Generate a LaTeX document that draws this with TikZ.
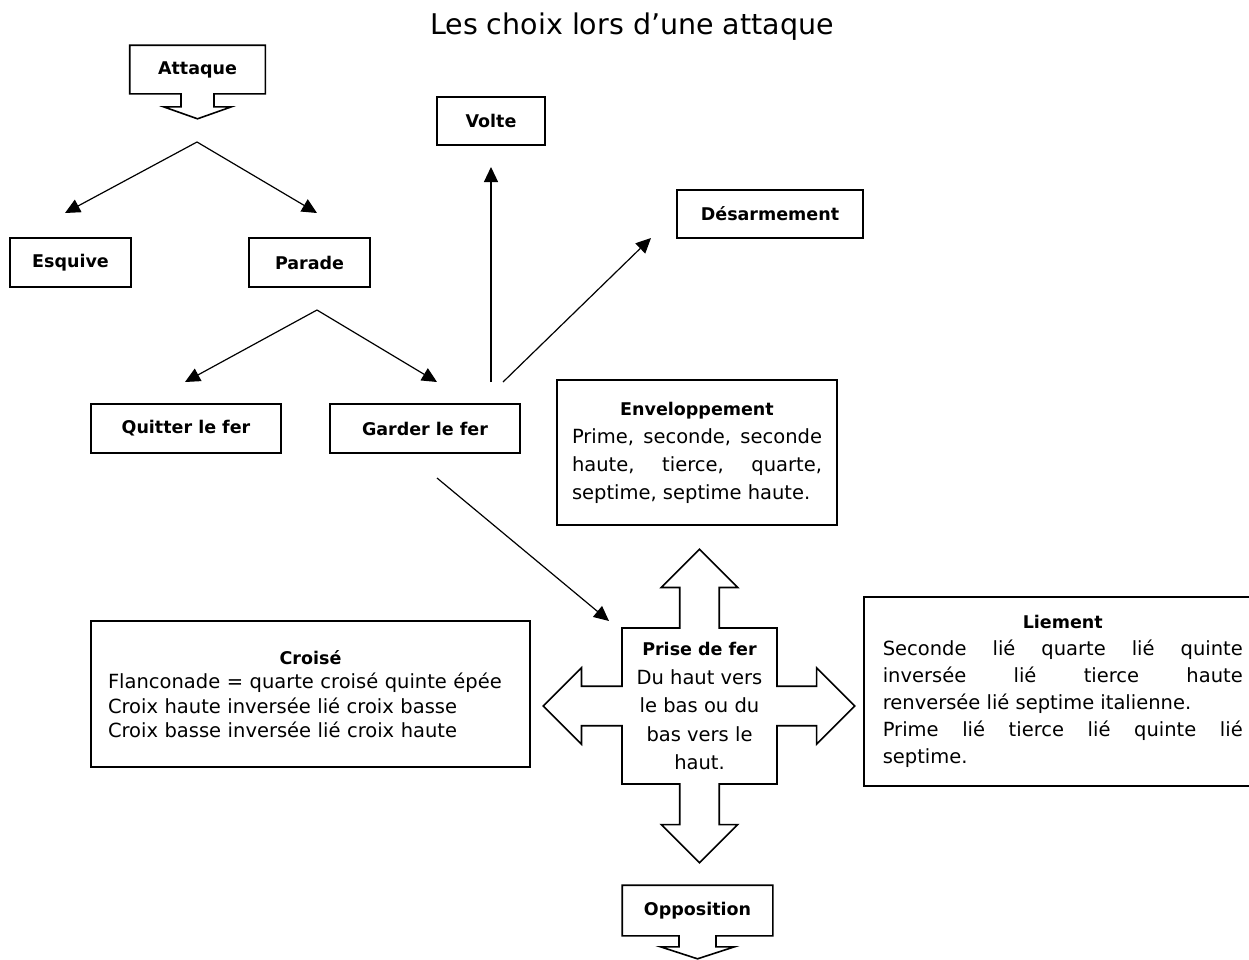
\documentclass[tikz,border=0pt]{standalone}
\usepackage{fontspec}
\setmainfont{DejaVu Sans}
\usetikzlibrary{arrows.meta,shapes.arrows}
\setlength{\parindent}{0pt}
\newcommand{\boxhead}[1]{\makebox[\hsize]{\fontsize{17.5}{27}\selectfont\bfseries #1}\par}

\begin{document}
\begin{tikzpicture}[x=1pt, y=-1pt, line width=1.6pt,
    every node/.style={font=\fontsize{19.5}{27}\selectfont},
    lbl/.style={minimum height=49pt, inner sep=0pt,
                font=\fontsize{17.5}{21}\selectfont\bfseries},
    box/.style={lbl, draw},
    txtbox/.style={draw, inner ysep=0pt, align=justify},
    arr/.style={-{Triangle[length=15pt,width=14pt]}, line width=1.2pt}]
  \useasboundingbox (0,0) rectangle (1249,959);

  \node[font=\fontsize{28.5}{34}\selectfont] (title) at (632,27) {Les choix lors d’une attaque};

  % callouts
  \node[lbl, minimum width=134pt, minimum height=47pt] (attaque) at (197.5,69.5) {Attaque};
  \draw (attaque.south west) -- (attaque.north west) -- (attaque.north east)
    -- (attaque.south east) -- ([shift={(16.5,0)}]attaque.south) -- ++(0,13) -- ++(17.5,0)
    -- ([shift={(0,25)}]attaque.south) -- ([shift={(-34,13)}]attaque.south) -- ++(17.5,0)
    -- ([shift={(-16.5,0)}]attaque.south) -- cycle;
  \node[lbl, minimum width=149pt] (oppos) at (697.5,910.5) {Opposition};
  \draw (oppos.south west) -- (oppos.north west) -- (oppos.north east)
    -- (oppos.south east) -- ([shift={(18.5,0)}]oppos.south) -- ++(0,11) -- ++(18.5,0)
    -- ([shift={(0,23)}]oppos.south) -- ([shift={(-37,11)}]oppos.south) -- ++(18.5,0)
    -- ([shift={(-18.5,0)}]oppos.south) -- cycle;

  % simple boxes
  \node[box, minimum width=121pt] (esquive) at (70.5,262.5) {Esquive};
  \node[box, minimum width=121pt] (parade) at (309.5,262.5) {Parade};
  \node[box, minimum width=190pt] (quitter) at (186,428.5) {Quitter le fer};
  \node[box, minimum width=190pt] (garder) at (425,428.5) {Garder le fer};
  \node[box, minimum width=108pt, minimum height=48pt] (volte) at (491,121) {Volte};
  \node[box, minimum width=186pt, minimum height=48pt] (desarm) at (770,214) {Désarmement};

  % text boxes
  \node[txtbox, text width=250pt, inner xsep=15pt, minimum height=145pt,
        font=\fontsize{19.5}{28}\selectfont] (envel) at (697,452.5)
    {\boxhead{Enveloppement}Prime, seconde, seconde\linebreak haute, tierce, quarte,\linebreak
     septime, septime haute.};
  \node[txtbox, align=left, text width=405pt, inner xsep=17pt, minimum height=146pt,
        font=\fontsize{19.5}{24.5}\selectfont] (croise) at (310.5,694)
    {\boxhead{Croisé}Flanconade = quarte croisé quinte épée\\
     Croix haute inversée lié croix basse\\ Croix basse inversée lié croix haute};
  \node[txtbox, text width=360pt, inner xsep=19pt, minimum height=189pt, anchor=west] (liement)
    at (863,691.5)
    {\boxhead{Liement}Seconde lié quarte lié quinte\linebreak inversée lié tierce haute\linebreak
     renversée lié septime italienne.\par Prime lié tierce lié quinte lié\linebreak septime.\par
     \vspace*{16pt}};

  % prise de fer
  \node[draw, arrow box, arrow box arrows={north:78pt, south:78pt, east:77pt, west:78pt},
        arrow box shaft width=39.5pt, arrow box head extend=18.5pt,
        minimum width=155pt, minimum height=156pt, inner sep=0pt, align=center,
        font=\fontsize{19.5}{28.5}\selectfont] (prise) at (699.5,706)
    {{\fontsize{17.5}{28.5}\selectfont\bfseries Prise de fer}\\ Du haut vers\\ le bas ou du\\
     bas vers le\\ haut.};

  % connectors
  \coordinate (s1) at (197,142);
  \coordinate (t1) at (65,213);
  \coordinate (t2) at (317,213);
  \coordinate (s2) at (317,310);
  \coordinate (t3) at (185,382);
  \coordinate (t4) at (437,382);
  \coordinate (g1) at (491,382);
  \coordinate (g2) at (503,382);
  \coordinate (g3) at (437,478);
  \coordinate (t5) at (491,167);
  \coordinate (t6) at (651,238);
  \coordinate (t7) at (609,621);
  \foreach \a/\b in {s1/t1, s1/t2, s2/t3, s2/t4, g1/t5, g2/t6, g3/t7}
    \draw[arr] (\a) -- (\b);
\end{tikzpicture}
\end{document}
